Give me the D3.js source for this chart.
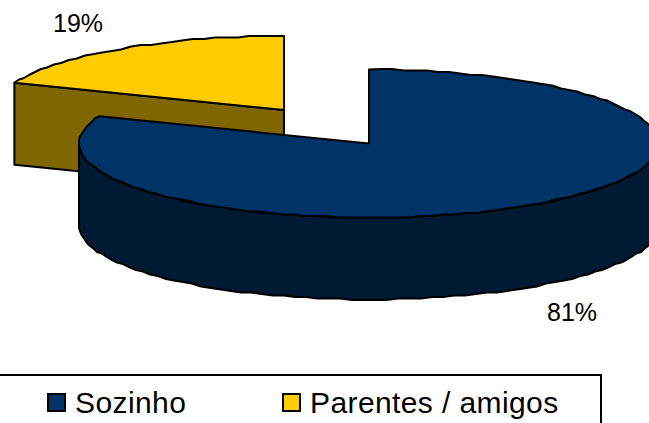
<!DOCTYPE html>
<html>
<head>
<meta charset="utf-8">
<script src="https://cdn.jsdelivr.net/npm/d3@7"></script>
<style>
  html, body { margin: 0; padding: 0; background: #fff; overflow: hidden; }
  text { font-family: "Liberation Sans", Arial, sans-serif; fill: #000; }
</style>
</head>
<body>
<div id="chart"></div>
<script>
var categories = ["Sozinho", "Parentes / amigos"];
var values = [81, 19];
var labels = ["81%", "19%"];
var colors = ["#003366", "#ffcc00"];
var sideColors = ["#001a33", "#806600"];

var width = 649, height = 423;
var rx = 290, ry = 74, depth = 82;
// the yellow slice is pulled out of the pie
var centers = [{ x: 369, y: 143.5 }, { x: 284, y: 110 }];
var labelPos = [{ x: 547, y: 320.5 }, { x: 53, y: 32 }];

var svg = d3.select("#chart").append("svg")
  .attr("width", width).attr("height", height)
  .style("display", "block");

var arcs = d3.pie().sort(null)(values);
var line = d3.line().x(d => d[0]).y(d => d[1]);

// flattened circle, like the old 3D pie
const project = (c, a, dy) => [c.x + rx * Math.sin(a), c.y - ry * Math.cos(a) + (dy || 0)];

// the original outline is a bit stepped, so snap the points
const snap = (p) => [Math.round(p[0]), Math.round(p[1] / 1.5) * 1.5];

const arcPoints = (c, a0, a1, dy) => {
  var n = Math.max(2, Math.round(Math.abs(a1 - a0) / 0.04));
  return d3.range(n + 1).map(i => {
    var p = project(c, a0 + (a1 - a0) * i / n, dy);
    return i == 0 || i == n ? p : snap(p);
  });
};

const draw = (pts, fill) => svg.append("path")
  .attr("d", line(pts) + "Z")
  .attr("fill", fill)
  .attr("stroke", "#000")
  .attr("stroke-width", 2)
  .attr("stroke-linejoin", "round");

// yellow goes first, blue sits in front of it
[1, 0].forEach(i => {
  var d = arcs[i], c = centers[i];
  if (i == 0) {
    // outer wall, front half only
    var a0 = Math.PI / 2, a1 = Math.min(d.endAngle, Math.PI * 1.5);
    draw(arcPoints(c, a0, a1, 0).concat(arcPoints(c, a1, a0, depth)), sideColors[i]);
  } else {
    // cut face of the slice, looking at it from the front
    var p = project(c, d.startAngle);
    var top = [[c.x, c.y], p];
    draw(top.concat([[p[0], p[1] + depth], [c.x, c.y + depth]]), sideColors[i]);
  }
  draw([[c.x, c.y]].concat(arcPoints(c, d.startAngle, d.endAngle)), colors[i]);
});

labels.forEach((t, i) => {
  svg.append("text")
    .attr("x", labelPos[i].x).attr("y", labelPos[i].y)
    .attr("font-size", 25)
    .text(t);
});

// legend
svg.append("rect")
  .attr("x", -2).attr("y", 375)
  .attr("width", 603).attr("height", 60)
  .attr("fill", "#fff").attr("stroke", "#000").attr("stroke-width", 2);

var legendX = d3.scalePoint().domain(categories).range([48, 283]);

categories.forEach((t, i) => {
  svg.append("rect")
    .attr("x", legendX(t)).attr("y", 394)
    .attr("width", 17).attr("height", 17)
    .attr("fill", colors[i]).attr("stroke", "#000").attr("stroke-width", 2);
  svg.append("text")
    .attr("x", legendX(t) + 27).attr("y", 413)
    .attr("font-size", 30)
    .attr("letter-spacing", 0.4)
    .text(t);
});
</script>
</body>
</html>
